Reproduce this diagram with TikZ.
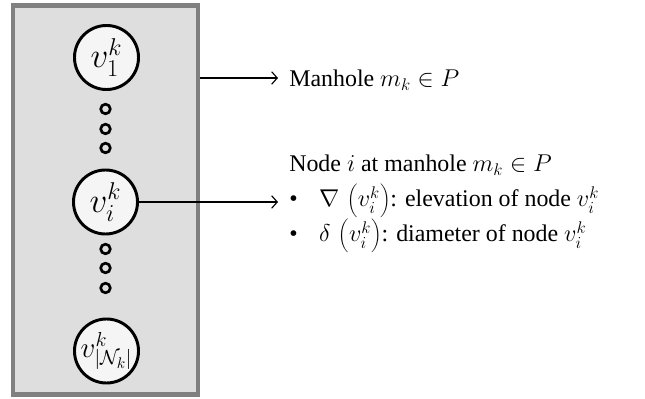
\documentclass[tikz,border=0pt]{standalone}
\usepackage{fontspec}
\setmainfont{Liberation Serif}
\usetikzlibrary{arrows.meta,positioning}

\begin{document}
\begin{tikzpicture}[
  x=0.025cm, y=-0.025cm,
  well/.style  = {draw=black!50, line width=3.5pt, fill=black!13,
                  minimum width=4.625cm, minimum height=9.74cm, inner sep=0pt},
  vnode/.style = {circle, draw, line width=2.1pt, fill=black!4, inner sep=0pt,
                  minimum size=1.6cm, font=\fontsize{24}{26}\selectfont},
  dot/.style   = {circle, draw, line width=1.9pt, inner sep=0pt, minimum size=0.24cm},
  link/.style  = {line width=0.8pt, -{Straight Barb[length=4pt,width=9pt]}},
  txt/.style   = {anchor=base west, inner xsep=0.275cm, inner ysep=0pt,
                  font=\fontsize{17}{23}\selectfont},
]
  \useasboundingbox (0,0) rectangle (645,399);

  % the manhole, with its nodes stacked inside
  \node[well] (manhole) at (105.5,200) {};

  \node[vnode] (v1) at (106.5,57.5) {$v_1^k$};
  \node[vnode] (vi) at (105.5,202)  {$v_i^k$};
  \node[vnode, font=\fontsize{22}{24}\selectfont] (vn) at (106.5,351)
    {$v_{|\mathcal{N}_k|}^k$};

  \foreach \y [count=\n] in {109,129,148,249,268,288}
    \node[dot] (d\n) at (105.5,\y) {};

  % what the manhole and one of its nodes stand for
  \coordinate (tap) at (manhole.east |- 0,78);
  \node[txt] (title) at (278,87) {Manhole $m_k \in P$};

  \node[txt] (info) at (278,172) {Node $i$ at manhole $m_k \in P$};
  \node[txt] (elev) at (278,207)
    {\textbullet\hspace{0.9em}$\nabla\,\left(v_i^k\right)$: elevation of node $v_i^k$};
  \node[txt] (diam) at (278,242)
    {\textbullet\hspace{0.9em}$\delta\,\left(v_i^k\right)$: diameter of node $v_i^k$};

  \draw[link] (tap) -- (tap -| title.west);
  \draw[link] (vi.east) -- (vi.east -| elev.west);
\end{tikzpicture}
\end{document}
